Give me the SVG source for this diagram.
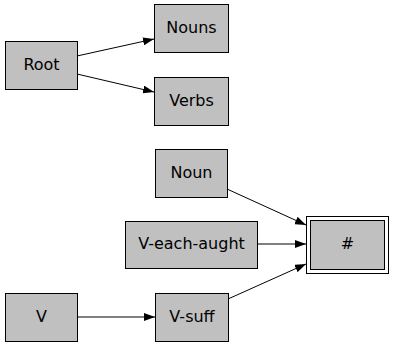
<svg xmlns="http://www.w3.org/2000/svg" width="393" height="347" viewBox="0 0 393 347">
  <style>
    .box { fill: #c0c0c0; stroke: #000; stroke-width: 1; }
    .frame { fill: none; stroke: #000; stroke-width: 1; }
    .lbl { font-family: "DejaVu Sans", Verdana, sans-serif; font-size: 16px; fill: #000; text-anchor: middle; dominant-baseline: central; }
    .edge { fill: none; stroke: #000; stroke-width: 1; marker-end: url(#arr); }
  </style>
  <defs>
    <marker id="arr" markerWidth="11" markerHeight="8" refX="11" refY="4" orient="auto" markerUnits="userSpaceOnUse">
      <path d="M0,0 L11,4 L0,8 Z" fill="#000"/>
    </marker>
  </defs>
  <rect width="393" height="347" fill="#fff"/>

  <g id="edges">
    <line class="edge" x1="77" y1="56" x2="154" y2="39"/>
    <line class="edge" x1="77" y1="74" x2="154" y2="92"/>
    <line class="edge" x1="227" y1="189" x2="306" y2="225"/>
    <line class="edge" x1="257" y1="244" x2="306" y2="244"/>
    <line class="edge" x1="228" y1="299" x2="306" y2="264"/>
    <line class="edge" x1="77" y1="317" x2="155" y2="317"/>
  </g>

  <g id="Root">
    <rect class="box" x="5.5" y="41.5" width="72" height="48"/>
    <text class="lbl" x="41.5" y="64">Root</text>
  </g>
  <g id="Nouns">
    <rect class="box" x="154.5" y="4.5" width="74" height="48"/>
    <text class="lbl" x="191.5" y="27">Nouns</text>
  </g>
  <g id="Verbs">
    <rect class="box" x="154.5" y="77.5" width="74" height="48"/>
    <text class="lbl" x="191.5" y="100">Verbs</text>
  </g>
  <g id="Noun">
    <rect class="box" x="155.5" y="149.5" width="72" height="48"/>
    <text class="lbl" x="191.5" y="172">Noun</text>
  </g>
  <g id="V-each-aught">
    <rect class="box" x="125.5" y="221.5" width="132" height="47"/>
    <text class="lbl" x="191.5" y="243.5">V-each-aught</text>
  </g>
  <g id="hash">
    <rect class="frame" x="306.5" y="216.5" width="82" height="57"/>
    <rect class="box" x="310.5" y="220.5" width="74" height="49"/>
    <text class="lbl" x="347.5" y="243.5">#</text>
  </g>
  <g id="V">
    <rect class="box" x="5.5" y="293.5" width="72" height="48"/>
    <text class="lbl" x="41.5" y="316">V</text>
  </g>
  <g id="V-suff">
    <rect class="box" x="155.5" y="293.5" width="73" height="48"/>
    <text class="lbl" x="192" y="316">V-suff</text>
  </g>
</svg>
